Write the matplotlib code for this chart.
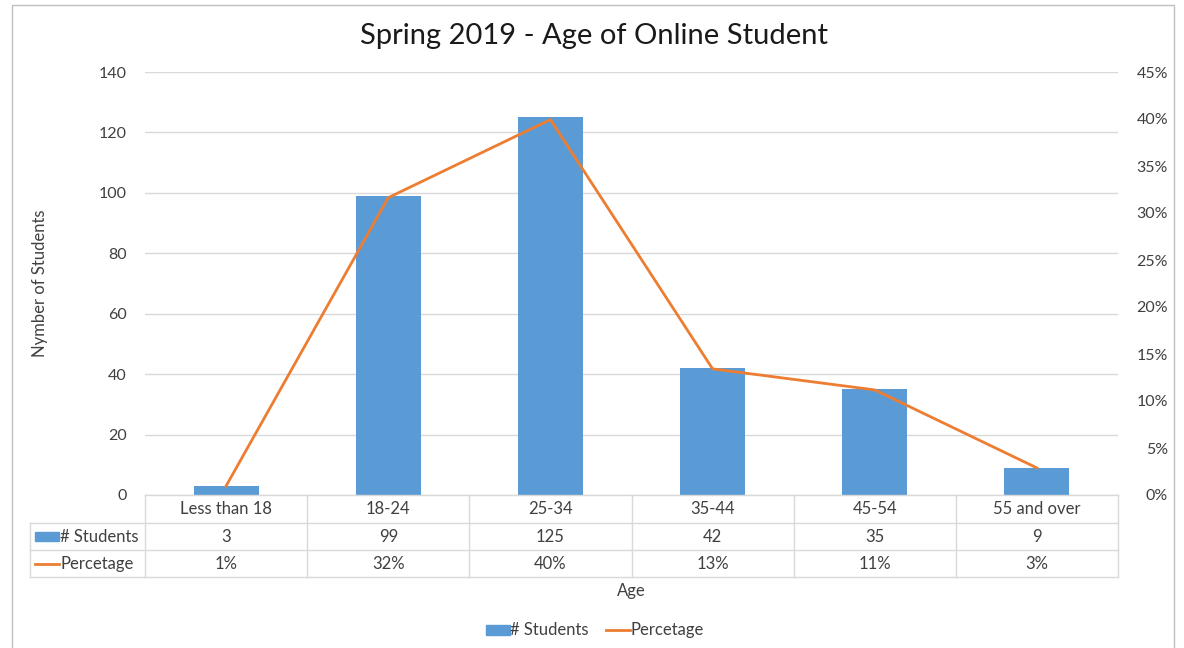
import matplotlib
matplotlib.use("Agg")
import matplotlib.pyplot as plt
from matplotlib.transforms import blended_transform_factory
from matplotlib.lines import Line2D
from matplotlib.patches import Rectangle

plt.rcParams['font.family'] = ['Lato', 'DejaVu Sans']

categories = ["Less than 18", "18-24", "25-34", "35-44", "45-54", "55 and over"]
students = [3, 99, 125, 42, 35, 9]
percentage = [0.96, 31.63, 39.94, 13.42, 11.18, 2.88]   # percent, as plotted
pct_labels = ["1%", "32%", "40%", "13%", "11%", "3%"]

BLUE = "#5B9BD5"
ORANGE = "#ED7D31"
GRID = "#D9D9D9"
TXT = "#404040"
FS = 12

W, H = 1184, 648
fig = plt.figure(figsize=(W / 100, H / 100), dpi=100)

def fx(px):
    return px / W

def fy(py):
    return 1 - py / H

L, R, T, B = 145, 1118, 72, 495
ax = fig.add_axes([fx(L), fy(B), fx(R) - fx(L), fy(T) - fy(B)])
x = list(range(len(categories)))
ax.bar(x, students, width=0.4, color=BLUE, zorder=2)
ax.set_xlim(-0.5, len(categories) - 0.5)
ax.set_ylim(0, 140)
ax.set_yticks(range(0, 141, 20))
ax.yaxis.grid(True, color=GRID, linewidth=1)
ax.set_axisbelow(True)
ax.set_xticks([])
for s in ax.spines.values():
    s.set_visible(False)
ax.tick_params(axis='y', length=0, pad=13, labelsize=11.5, labelcolor=TXT)

ax2 = ax.twinx()
ax2.plot(x, percentage, color=ORANGE, linewidth=2, zorder=3)
ax2.set_ylim(0, 45)
ax2.set_yticks(range(0, 46, 5))
ax2.set_yticklabels([f"{v}%" for v in range(0, 46, 5)])
for s in ax2.spines.values():
    s.set_visible(False)
ax2.tick_params(axis='y', length=0, pad=36, labelsize=11.5, labelcolor=TXT)
for lab in ax2.get_yticklabels():
    lab.set_horizontalalignment('right')

# Data table
tr = blended_transform_factory(ax.transData, fig.transFigure)
rows_y = [495, 523, 550, 577]
lw = 1
fig.add_artist(Line2D([fx(L), fx(R)], [fy(495)] * 2, color=GRID, lw=lw))
for yy in rows_y[1:]:
    fig.add_artist(Line2D([fx(30), fx(R)], [fy(yy)] * 2, color=GRID, lw=lw))
for i in range(len(categories) + 1):
    ax.add_line(Line2D([i - 0.5, i - 0.5], [fy(495), fy(577)], transform=tr,
                       color=GRID, lw=lw, clip_on=False))
fig.add_artist(Line2D([fx(30)] * 2, [fy(523), fy(577)], color=GRID, lw=lw))

for i, c in enumerate(categories):
    ax.text(i, fy(509), c, transform=tr, ha='center', va='center', fontsize=FS, color=TXT)
    ax.text(i, fy(537), str(students[i]), transform=tr, ha='center', va='center', fontsize=FS, color=TXT)
    ax.text(i, fy(564), pct_labels[i], transform=tr, ha='center', va='center', fontsize=FS, color=TXT)

fig.add_artist(Rectangle((fx(35), fy(541)), fx(24), fy(532) - fy(541), color=BLUE))
fig.text(fx(60), fy(537), "# Students", ha='left', va='center', fontsize=FS, color=TXT)
fig.add_artist(Line2D([fx(35), fx(59)], [fy(564)] * 2, color=ORANGE, lw=2))
fig.text(fx(61), fy(564), "Percetage", ha='left', va='center', fontsize=FS, color=TXT)

fig.text(fx(631), fy(591), "Age", ha='center', va='center', fontsize=FS, color=TXT)
fig.text(fx(40), fy(283), "Nymber of Students", ha='center', va='center', rotation=90,
         fontsize=FS, color=TXT)

fig.text(fx(594), fy(36), "Spring 2019 - Age of Online Student", ha='center', va='center',
         fontsize=21, color="#1a1a1a")

fig.add_artist(Rectangle((fx(486), fy(635)), fx(24), fy(625) - fy(635), color=BLUE))
fig.text(fx(510), fy(630), "# Students", ha='left', va='center', fontsize=FS, color=TXT)
fig.add_artist(Line2D([fx(606), fx(630)], [fy(630)] * 2, color=ORANGE, lw=2))
fig.text(fx(631), fy(630), "Percetage", ha='left', va='center', fontsize=FS, color=TXT)

fig.add_artist(Rectangle((fx(12), fy(660)), fx(1174) - fx(12), fy(5) - fy(660),
                         fill=False, edgecolor="#BFBFBF", lw=1))

fig.savefig("out.png", dpi=100)
